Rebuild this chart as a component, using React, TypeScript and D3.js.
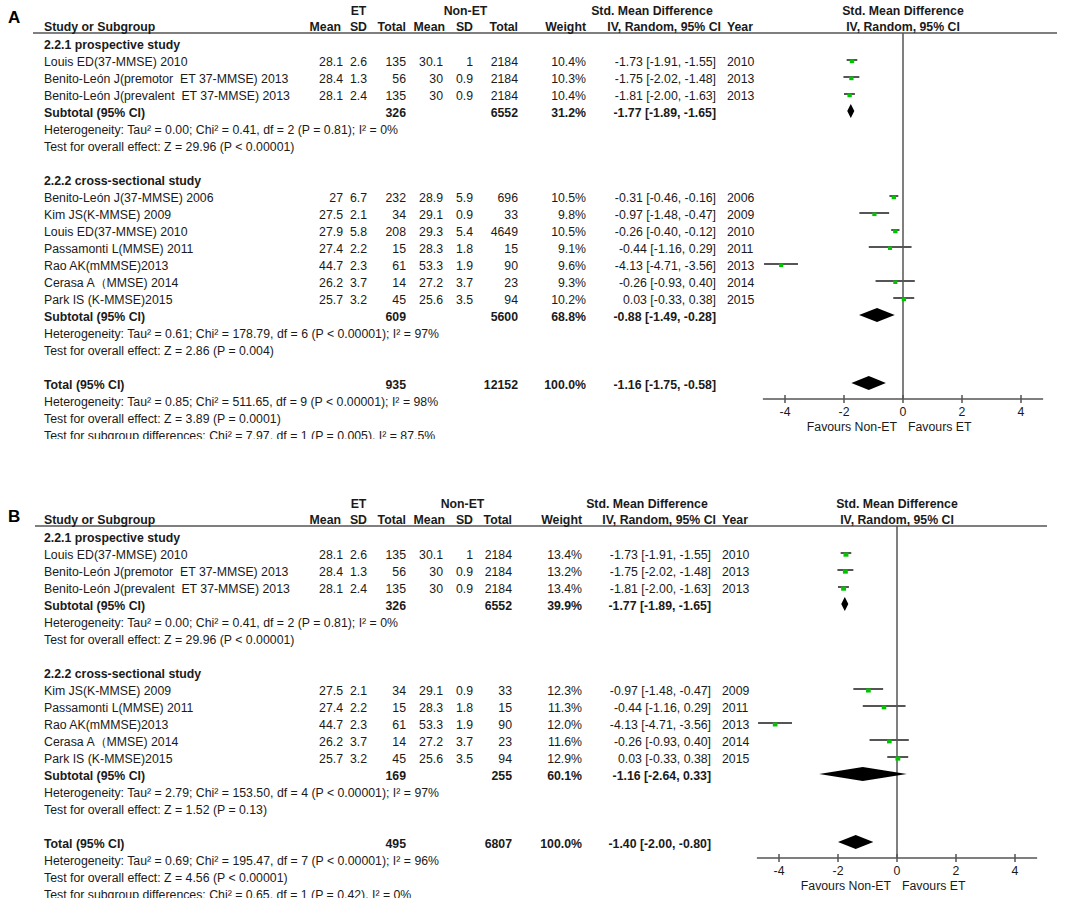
import React from "react";
import * as d3 from "d3";

const FONT = "'Liberation Sans', Arial, Helvetica, sans-serif";

type Study = {
  name: string; etMean: number; etSD: number; etN: number;
  ctlMean: number; ctlSD: number; ctlN: number;
  weight: number; smd: number; lo: number; hi: number; year: number;
};
type Pooled = { etN: number; ctlN: number; weight: number; smd: number; lo: number; hi: number };

const axisTicks = [-4, -2, 0, 2, 4];
const groupTitles = ["2.2.1 prospective study", "2.2.2 cross-sectional study"];

// ---------- Panel A ----------
const studiesA1: Study[] = [
  { name: "Louis ED(37-MMSE) 2010", etMean: 28.1, etSD: 2.6, etN: 135, ctlMean: 30.1, ctlSD: 1, ctlN: 2184, weight: 10.4, smd: -1.73, lo: -1.91, hi: -1.55, year: 2010 },
  { name: "Benito-León J(premotor  ET 37-MMSE) 2013", etMean: 28.4, etSD: 1.3, etN: 56, ctlMean: 30, ctlSD: 0.9, ctlN: 2184, weight: 10.3, smd: -1.75, lo: -2.02, hi: -1.48, year: 2013 },
  { name: "Benito-León J(prevalent  ET 37-MMSE) 2013", etMean: 28.1, etSD: 2.4, etN: 135, ctlMean: 30, ctlSD: 0.9, ctlN: 2184, weight: 10.4, smd: -1.81, lo: -2.0, hi: -1.63, year: 2013 },
];
const studiesA2: Study[] = [
  { name: "Benito-León J(37-MMSE) 2006", etMean: 27, etSD: 6.7, etN: 232, ctlMean: 28.9, ctlSD: 5.9, ctlN: 696, weight: 10.5, smd: -0.31, lo: -0.46, hi: -0.16, year: 2006 },
  { name: "Kim JS(K-MMSE) 2009", etMean: 27.5, etSD: 2.1, etN: 34, ctlMean: 29.1, ctlSD: 0.9, ctlN: 33, weight: 9.8, smd: -0.97, lo: -1.48, hi: -0.47, year: 2009 },
  { name: "Louis ED(37-MMSE) 2010", etMean: 27.9, etSD: 5.8, etN: 208, ctlMean: 29.3, ctlSD: 5.4, ctlN: 4649, weight: 10.5, smd: -0.26, lo: -0.4, hi: -0.12, year: 2010 },
  { name: "Passamonti L(MMSE) 2011", etMean: 27.4, etSD: 2.2, etN: 15, ctlMean: 28.3, ctlSD: 1.8, ctlN: 15, weight: 9.1, smd: -0.44, lo: -1.16, hi: 0.29, year: 2011 },
  { name: "Rao AK(mMMSE)2013", etMean: 44.7, etSD: 2.3, etN: 61, ctlMean: 53.3, ctlSD: 1.9, ctlN: 90, weight: 9.6, smd: -4.13, lo: -4.71, hi: -3.56, year: 2013 },
  { name: "Cerasa A（MMSE) 2014", etMean: 26.2, etSD: 3.7, etN: 14, ctlMean: 27.2, ctlSD: 3.7, ctlN: 23, weight: 9.3, smd: -0.26, lo: -0.93, hi: 0.4, year: 2014 },
  { name: "Park IS (K-MMSE)2015", etMean: 25.7, etSD: 3.2, etN: 45, ctlMean: 25.6, ctlSD: 3.5, ctlN: 94, weight: 10.2, smd: 0.03, lo: -0.33, hi: 0.38, year: 2015 },
];
const subtotalA1: Pooled = { etN: 326, ctlN: 6552, weight: 31.2, smd: -1.77, lo: -1.89, hi: -1.65 };
const subtotalA2: Pooled = { etN: 609, ctlN: 5600, weight: 68.8, smd: -0.88, lo: -1.49, hi: -0.28 };
const totalA: Pooled = { etN: 935, ctlN: 12152, weight: 100.0, smd: -1.16, lo: -1.75, hi: -0.58 };
const statsA1 = ["Heterogeneity: Tau² = 0.00; Chi² = 0.41, df = 2 (P = 0.81); I² = 0%", "Test for overall effect: Z = 29.96 (P < 0.00001)"];
const statsA2 = ["Heterogeneity: Tau² = 0.61; Chi² = 178.79, df = 6 (P < 0.00001); I² = 97%", "Test for overall effect: Z = 2.86 (P = 0.004)"];
const statsATotal = ["Heterogeneity: Tau² = 0.85; Chi² = 511.65, df = 9 (P < 0.00001); I² = 98%", "Test for overall effect: Z = 3.89 (P = 0.0001)", "Test for subgroup differences: Chi² = 7.97, df = 1 (P = 0.005), I² = 87.5%"];

// ---------- Panel B ----------
const studiesB1: Study[] = [
  { name: "Louis ED(37-MMSE) 2010", etMean: 28.1, etSD: 2.6, etN: 135, ctlMean: 30.1, ctlSD: 1, ctlN: 2184, weight: 13.4, smd: -1.73, lo: -1.91, hi: -1.55, year: 2010 },
  { name: "Benito-León J(premotor  ET 37-MMSE) 2013", etMean: 28.4, etSD: 1.3, etN: 56, ctlMean: 30, ctlSD: 0.9, ctlN: 2184, weight: 13.2, smd: -1.75, lo: -2.02, hi: -1.48, year: 2013 },
  { name: "Benito-León J(prevalent  ET 37-MMSE) 2013", etMean: 28.1, etSD: 2.4, etN: 135, ctlMean: 30, ctlSD: 0.9, ctlN: 2184, weight: 13.4, smd: -1.81, lo: -2.0, hi: -1.63, year: 2013 },
];
const studiesB2: Study[] = [
  { name: "Kim JS(K-MMSE) 2009", etMean: 27.5, etSD: 2.1, etN: 34, ctlMean: 29.1, ctlSD: 0.9, ctlN: 33, weight: 12.3, smd: -0.97, lo: -1.48, hi: -0.47, year: 2009 },
  { name: "Passamonti L(MMSE) 2011", etMean: 27.4, etSD: 2.2, etN: 15, ctlMean: 28.3, ctlSD: 1.8, ctlN: 15, weight: 11.3, smd: -0.44, lo: -1.16, hi: 0.29, year: 2011 },
  { name: "Rao AK(mMMSE)2013", etMean: 44.7, etSD: 2.3, etN: 61, ctlMean: 53.3, ctlSD: 1.9, ctlN: 90, weight: 12.0, smd: -4.13, lo: -4.71, hi: -3.56, year: 2013 },
  { name: "Cerasa A（MMSE) 2014", etMean: 26.2, etSD: 3.7, etN: 14, ctlMean: 27.2, ctlSD: 3.7, ctlN: 23, weight: 11.6, smd: -0.26, lo: -0.93, hi: 0.4, year: 2014 },
  { name: "Park IS (K-MMSE)2015", etMean: 25.7, etSD: 3.2, etN: 45, ctlMean: 25.6, ctlSD: 3.5, ctlN: 94, weight: 12.9, smd: 0.03, lo: -0.33, hi: 0.38, year: 2015 },
];
const subtotalB1: Pooled = { etN: 326, ctlN: 6552, weight: 39.9, smd: -1.77, lo: -1.89, hi: -1.65 };
const subtotalB2: Pooled = { etN: 169, ctlN: 255, weight: 60.1, smd: -1.16, lo: -2.64, hi: 0.33 };
const totalB: Pooled = { etN: 495, ctlN: 6807, weight: 100.0, smd: -1.4, lo: -2.0, hi: -0.8 };
const statsB1 = ["Heterogeneity: Tau² = 0.00; Chi² = 0.41, df = 2 (P = 0.81); I² = 0%", "Test for overall effect: Z = 29.96 (P < 0.00001)"];
const statsB2 = ["Heterogeneity: Tau² = 2.79; Chi² = 153.50, df = 4 (P < 0.00001); I² = 97%", "Test for overall effect: Z = 1.52 (P = 0.13)"];
const statsBTotal = ["Heterogeneity: Tau² = 0.69; Chi² = 195.47, df = 7 (P < 0.00001); I² = 96%", "Test for overall effect: Z = 4.56 (P < 0.00001)", "Test for subgroup differences: Chi² = 0.65, df = 1 (P = 0.42), I² = 0%"];

type Layout = {
  id: string; letter: string; letterY: number; y0: number;
  cols: { etMean: number; etSD: number; etN: number; ctlMean: number; ctlSD: number; ctlN: number; weight: number; ci: number; year: number; smdHdr: number };
  zeroX: number; lineX0: number; lineX1: number;
};

const ROW = 17;
const f2 = (v: number) => v.toFixed(2);
const ciText = (p: { smd: number; lo: number; hi: number }) => `${f2(p.smd)} [${f2(p.lo)}, ${f2(p.hi)}]`;

function Panel(props: {
  L: Layout; g1: Study[]; g2: Study[]; s1: Pooled; s2: Pooled; tot: Pooled;
  st1: string[]; st2: string[]; stT: string[];
}) {
  const { L, g1, g2, s1, s2, tot, st1, st2, stT } = props;
  const C = L.cols;
  const x = d3.scaleLinear().domain([-4, 4]).range([L.zeroX - 4 * 29.5, L.zeroX + 4 * 29.5]);
  const ry = (k: number) => L.y0 + ROW * k;
  const textEls: React.ReactNode[] = [];
  const marks: React.ReactNode[] = [];
  const T = (key: string, tx: number, ty: number, s: string, anchor = "start", bold = false, extra: any = {}) =>
    textEls.push(
      <text key={key} x={tx} y={ty} dy="0.35em" textAnchor={anchor} fontWeight={bold ? "bold" : "normal"} style={{ whiteSpace: "pre" }} {...extra}>
        {s}
      </text>
    );

  const headerLineY = L.y0 - 12;
  // headers
  T("ethdr", (C.etMean - 32 + C.etN) / 2, L.y0 - 34, "ET", "middle", true);
  T("cthdr", (C.ctlMean - 30 + C.ctlN) / 2, L.y0 - 34, "Non-ET", "middle", true);
  T("smdhdr1", C.smdHdr, L.y0 - 34, "Std. Mean Difference", "middle", true);
  T("smdhdr2", L.zeroX, L.y0 - 34, "Std. Mean Difference", "middle", true);
  const hy = L.y0 - 18;
  T("h0", 44, hy, "Study or Subgroup", "start", true);
  T("h1", C.etMean - 2, hy, "Mean", "end", true);
  T("h2", C.etSD, hy, "SD", "end", true);
  T("h3", C.etN, hy, "Total", "end", true);
  T("h4", C.ctlMean + 2, hy, "Mean", "end", true);
  T("h5", C.ctlSD, hy, "SD", "end", true);
  T("h6", C.ctlN, hy, "Total", "end", true);
  T("h7", C.weight, hy, "Weight", "end", true);
  T("h8", C.ci + 5, hy, "IV, Random, 95% CI", "end", true);
  T("h9", C.year, hy, "Year", "start", true);
  T("h10", L.zeroX, hy, "IV, Random, 95% CI", "middle", true);

  const studyRow = (s: Study, k: number, key: string) => {
    const y = ry(k);
    T(key + "n", 44, y, s.name);
    T(key + "a", C.etMean, y, String(s.etMean), "end");
    T(key + "b", C.etSD, y, String(s.etSD), "end");
    T(key + "c", C.etN, y, String(s.etN), "end");
    T(key + "d", C.ctlMean, y, String(s.ctlMean), "end");
    T(key + "e", C.ctlSD, y, String(s.ctlSD), "end");
    T(key + "f", C.ctlN, y, String(s.ctlN), "end");
    T(key + "g", C.weight, y, s.weight.toFixed(1) + "%", "end");
    T(key + "h", C.ci, y, ciText(s), "end");
    T(key + "i", C.year, y, String(s.year));
    const side = Math.sqrt(s.weight) * 1.35;
    marks.push(
      <g key={key + "m"}>
        <line x1={x(s.lo)} x2={x(s.hi)} y1={y - 2} y2={y - 2} stroke="#555" strokeWidth={2} />
        <rect x={x(s.smd) - side / 2} y={y - 2.5} width={side} height={side * 0.85} fill="#00c400" />
      </g>
    );
  };
  const pooledRow = (p: Pooled, k: number, key: string, label: string) => {
    const y = ry(k);
    T(key + "n", 44, y, label, "start", true);
    T(key + "c", C.etN, y, String(p.etN), "end", true);
    T(key + "f", C.ctlN, y, String(p.ctlN), "end", true);
    T(key + "g", C.weight, y, p.weight.toFixed(1) + "%", "end", true);
    T(key + "h", C.ci, y, ciText(p), "end", true);
    const dy = y - 2;
    marks.push(
      <polygon key={key + "d"} fill="#000"
        points={`${x(p.lo)},${dy} ${x(p.smd)},${dy - 7} ${x(p.hi)},${dy} ${x(p.smd)},${dy + 7}`} />
    );
  };

  let k = 0;
  T("g1t", 44, ry(k), groupTitles[0], "start", true);
  g1.forEach((s, i) => studyRow(s, ++k, "g1s" + i));
  pooledRow(s1, ++k, "s1", "Subtotal (95% CI)");
  st1.forEach((s, i) => T("st1" + i, 44, ry(++k), s));
  k += 2;
  T("g2t", 44, ry(k), groupTitles[1], "start", true);
  g2.forEach((s, i) => studyRow(s, ++k, "g2s" + i));
  pooledRow(s2, ++k, "s2", "Subtotal (95% CI)");
  st2.forEach((s, i) => T("st2" + i, 44, ry(++k), s));
  k += 2;
  pooledRow(tot, k, "tot", "Total (95% CI)");
  const totY = ry(k);
  stT.forEach((s, i) => {
    ++k;
    const last = i === stT.length - 1;
    T("stT" + i, 44, ry(k), s, "start", false, last ? { clipPath: `url(#clip${L.id})` } : {});
  });
  const clipY = ry(k) + 3;

  const axisY = totY + 14;
  return (
    <g>
      <defs>
        <clipPath id={"clip" + L.id}>
          <rect x={0} y={clipY - 30} width={1084} height={30} />
        </clipPath>
      </defs>
      <text x={8} y={L.letterY} dy="0.35em" fontWeight="bold" fontSize={17}>{L.letter}</text>
      <line x1={L.lineX0} x2={L.lineX1} y1={headerLineY} y2={headerLineY} stroke="#555" strokeWidth={1.5} />
      <line x1={x(0)} x2={x(0)} y1={headerLineY} y2={axisY} stroke="#555" strokeWidth={1.5} />
      <g fill="#1a1a1a">{textEls}</g>
      {marks}
      <line x1={x(-4.75)} x2={x(4.75)} y1={axisY} y2={axisY} stroke="#555" strokeWidth={1.5} />
      {axisTicks.map((t) => (
        <g key={"t" + t}>
          <line x1={x(t)} x2={x(t)} y1={axisY - 4} y2={axisY + 4} stroke="#555" strokeWidth={1.5} />
          <text x={x(t)} y={axisY + 13} dy="0.35em" textAnchor="middle" fill="#1a1a1a">{String(t)}</text>
        </g>
      ))}
      <text x={x(0) - 6} y={axisY + 28} dy="0.35em" textAnchor="end" fill="#1a1a1a">Favours Non-ET</text>
      <text x={x(0) + 5} y={axisY + 28} dy="0.35em" textAnchor="start" fill="#1a1a1a">Favours ET</text>
    </g>
  );
}

const layoutA: Layout = {
  id: "A", letter: "A", letterY: 17, y0: 45,
  cols: { etMean: 343, etSD: 367, etN: 406, ctlMean: 443, ctlSD: 473, ctlN: 518, weight: 586, ci: 716, year: 727, smdHdr: 652 },
  zeroX: 903, lineX0: 33, lineX1: 1057,
};
const layoutB: Layout = {
  id: "B", letter: "B", letterY: 516, y0: 538,
  cols: { etMean: 343, etSD: 367, etN: 406, ctlMean: 443, ctlSD: 473, ctlN: 512, weight: 582, ci: 711, year: 722, smdHdr: 647 },
  zeroX: 897, lineX0: 35, lineX1: 1047,
};

export default function App() {
  return (
    <svg width={1084} height={913} style={{ position: "absolute", left: 0, top: 0, background: "#fff" }}
      fontFamily={FONT} fontSize={12.3}>
      <rect width={1084} height={913} fill="#fff" />
      <Panel L={layoutA} g1={studiesA1} g2={studiesA2} s1={subtotalA1} s2={subtotalA2} tot={totalA} st1={statsA1} st2={statsA2} stT={statsATotal} />
      <Panel L={layoutB} g1={studiesB1} g2={studiesB2} s1={subtotalB1} s2={subtotalB2} tot={totalB} st1={statsB1} st2={statsB2} stT={statsBTotal} />
    </svg>
  );
}
